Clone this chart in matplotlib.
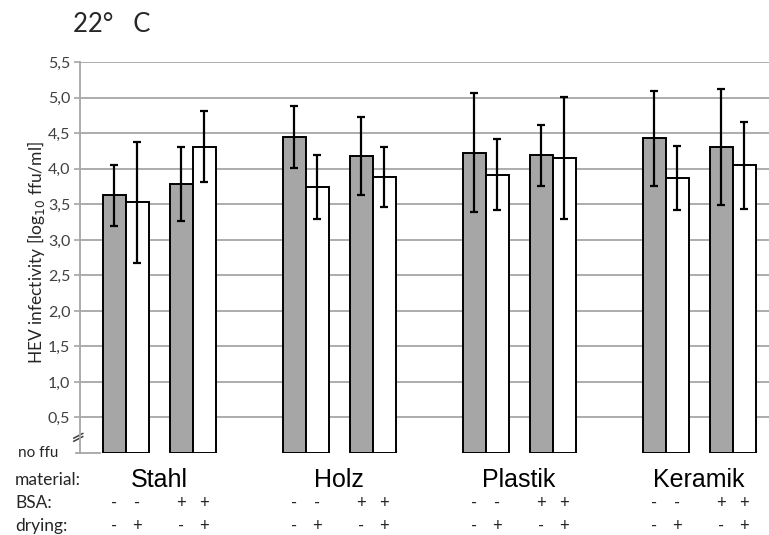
import numpy as np
import matplotlib
matplotlib.use("Agg")
import matplotlib.pyplot as plt
from matplotlib.transforms import blended_transform_factory

# values (log10 ffu/ml), order per material:
# (-BSA,-drying), (-BSA,+drying), (+BSA,-drying), (+BSA,+drying)
materials = ["Stahl", "Holz", "Plastik", "Keramik"]
means = {
    "Stahl":   [3.63, 3.53, 3.79, 4.31],
    "Holz":    [4.45, 3.75, 4.18, 3.89],
    "Plastik": [4.23, 3.92, 4.19, 4.15],
    "Keramik": [4.43, 3.87, 4.31, 4.05],
}
sds = {
    "Stahl":   [0.43, 0.85, 0.52, 0.50],
    "Holz":    [0.44, 0.45, 0.55, 0.42],
    "Plastik": [0.84, 0.50, 0.43, 0.86],
    "Keramik": [0.67, 0.45, 0.82, 0.61],
}
bsa_signs = ["-", "-", "+", "+"]
drying_signs = ["-", "+", "-", "+"]
yticks = [0.5, 1.0, 1.5, 2.0, 2.5, 3.0, 3.5, 4.0, 4.5, 5.0, 5.5]

GRID = "#a6a6a6"
GRAY = "#a6a6a6"
TXT = "#262626"
W, H = 769, 535

fig = plt.figure(figsize=(W / 100, H / 100), dpi=100)
ax = fig.add_axes([80 / W, 82 / H, 689 / W, 390.7 / H])

bw = 23 / 180          # bar width in category units
pair_off = 67 / 180 / 2
offsets = [-pair_off - bw / 2, -pair_off + bw / 2, pair_off - bw / 2, pair_off + bw / 2]
colors = [GRAY, "white", GRAY, "white"]

xs_all = []
for i, m in enumerate(materials):
    xs = [i + o for o in offsets]
    xs_all.append(xs)
    ax.bar(xs, means[m], width=bw, color=colors, edgecolor="black",
           linewidth=1.4, zorder=3)
    ax.errorbar(xs, means[m], yerr=sds[m], fmt="none", ecolor="black",
                elinewidth=1.6, capsize=3, capthick=1.6, zorder=4)

ax.set_xlim(-0.44, 3.388)
ax.set_ylim(0, 5.5)
ax.set_yticks(yticks)
ax.set_yticklabels([f"{t:.1f}".replace(".", ",") for t in yticks],
                   family="Lato", fontsize=11.5, color="#404040")
ax.tick_params(axis="y", length=4, color=GRID, width=1.2, pad=3)
ax.set_xticks([])
ax.grid(axis="y", color=GRID, linewidth=1.3, zorder=0)
for s in ["top", "right", "bottom"]:
    ax.spines[s].set_visible(False)
ax.spines["left"].set_color(GRID)
ax.spines["left"].set_linewidth(1.3)

# short baseline at "no ffu" and axis break mark
ax.plot([-0.006, 0.029], [0, 0], transform=ax.transAxes, color=GRID,
        linewidth=1.3, clip_on=False, zorder=1)
for dy in (0.0, 0.008):
    ax.plot([-0.009, 0.004], [0.03 + dy, 0.042 + dy], transform=ax.transAxes,
            color="#404040", linewidth=1.1, clip_on=False)
fig.text(58 / W, 1 - 453 / H, "no ffu", ha="right", va="center",
         family="Lato", fontsize=11, color=TXT)

ax.set_ylabel("HEV infectivity [log$_{10}$ ffu/ml]", family="Lato",
              fontsize=12.5, color=TXT, va="center")
ax.yaxis.set_label_coords(36 / W, 1 - 253 / H, transform=fig.transFigure)

fig.text(73 / W, 1 - 25 / H, "22°   C", ha="left", va="center",
         family="Lato", fontsize=18.5, color=TXT)

# labels table under the chart
tr = blended_transform_factory(ax.transData, fig.transFigure)
row_y = {"material": 1 - 480 / H, "BSA": 1 - 503 / H, "drying": 1 - 526 / H}
for key, lab in [("material", "material:"), ("BSA", "BSA:"), ("drying", "drying:")]:
    fig.text(15 / W, row_y[key], lab, ha="left", va="center",
             family="Lato", fontsize=12.5, color=TXT)
for i, m in enumerate(materials):
    ax.text(i, row_y["material"], m, transform=tr, ha="center", va="center",
            family="Liberation Sans", fontsize=18, color="black")
    for x, b, d in zip(xs_all[i], bsa_signs, drying_signs):
        ax.text(x, row_y["BSA"], b, transform=tr, ha="center", va="center",
                family="Lato", fontsize=12, color=TXT)
        ax.text(x, row_y["drying"], d, transform=tr, ha="center", va="center",
                family="Lato", fontsize=12, color=TXT)

fig.savefig("out.png", dpi=100)
